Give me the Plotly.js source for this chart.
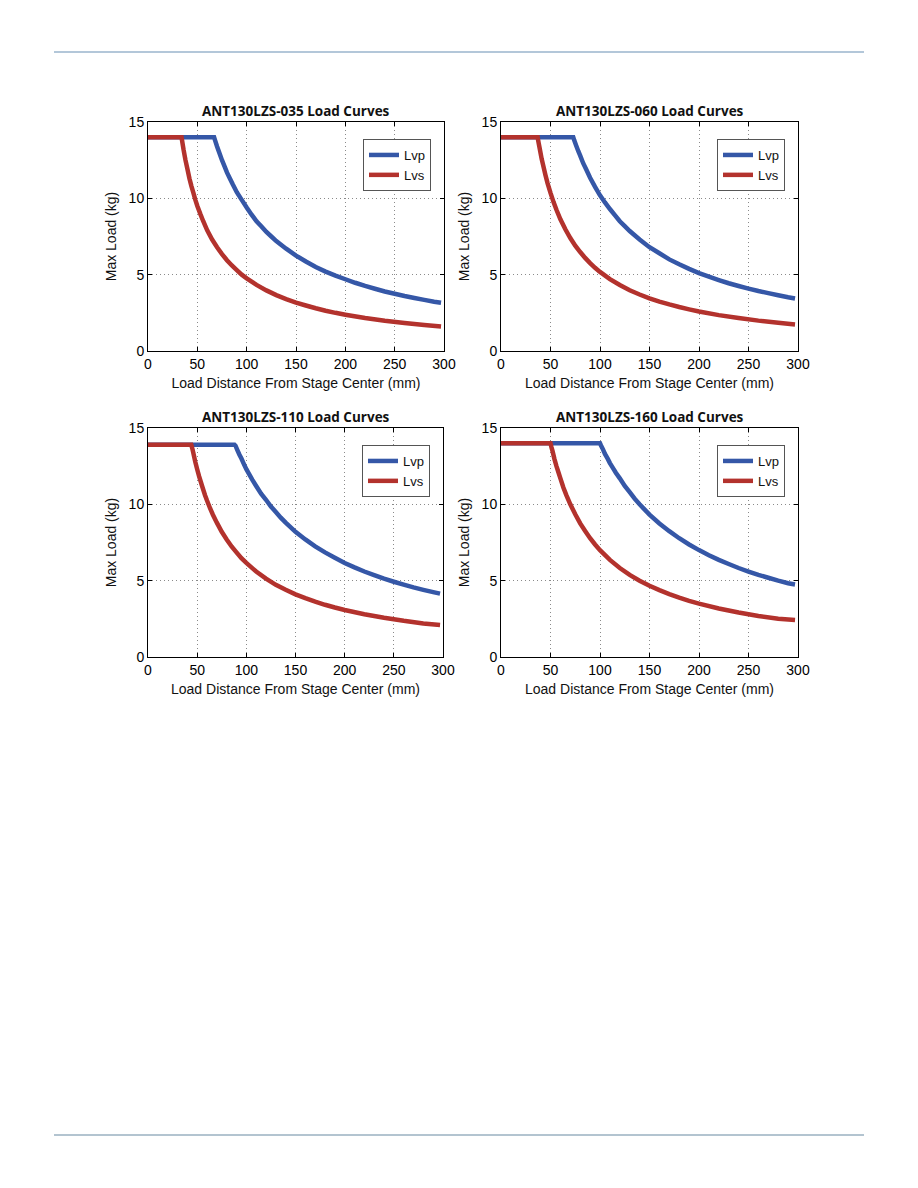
<!DOCTYPE html>
<html>
<head>
<meta charset="utf-8">
<script src="https://cdn.plot.ly/plotly-3.0.1.min.js"></script>
<style>
html,body{margin:0;padding:0;background:#fff;}
#chart{width:918px;height:1188px;}
</style>
</head>
<body>
<div id="chart"></div>
<script>
// ---- Data ----
const titles = ["ANT130LZS-035 Load Curves", "ANT130LZS-060 Load Curves", "ANT130LZS-110 Load Curves", "ANT130LZS-160 Load Curves"];
const seriesNames = ["Lvp", "Lvs"];
const xTicks = [0, 50, 100, 150, 200, 250, 300];
const yTicks = [0, 5, 10, 15];

// ANT130LZS-035
const x035_Lvp = [0, 67, 68, 70, 72, 75, 78, 80, 83, 86, 90, 95, 100, 105, 110, 115, 120, 125, 130, 140, 150, 160, 170, 180, 190, 200, 210, 220, 230, 240, 250, 260, 270, 280, 290, 297];
const y035_Lvp = [14, 14, 13.8, 13.4, 13.03, 12.5, 12.03, 11.7, 11.3, 10.9, 10.4, 9.9, 9.4, 8.93, 8.5, 8.16, 7.8, 7.5, 7.2, 6.7, 6.25, 5.86, 5.5, 5.2, 4.94, 4.7, 4.47, 4.26, 4.08, 3.9, 3.75, 3.6, 3.47, 3.35, 3.23, 3.16];
const x035_Lvs = [0, 34, 35, 36, 37, 38, 40, 42, 44, 46, 48, 50, 53, 56, 60, 65, 70, 75, 80, 85, 90, 95, 100, 110, 120, 130, 140, 150, 160, 170, 180, 190, 200, 220, 240, 260, 280, 297];
const y035_Lvs = [14, 14, 13.6, 13.2, 12.85, 12.5, 11.9, 11.3, 10.8, 10.35, 9.9, 9.5, 8.98, 8.5, 7.9, 7.3, 6.8, 6.35, 5.95, 5.6, 5.3, 5.0, 4.76, 4.33, 3.97, 3.66, 3.4, 3.17, 2.98, 2.8, 2.64, 2.5, 2.38, 2.16, 1.98, 1.83, 1.7, 1.6];

// ANT130LZS-060
const x060_Lvp = [0, 73, 74, 76, 78, 80, 83, 86, 90, 95, 100, 105, 110, 115, 120, 125, 130, 140, 150, 160, 170, 180, 190, 200, 210, 220, 230, 240, 250, 260, 270, 280, 290, 297];
const y060_Lvp = [14, 14, 13.8, 13.45, 13.1, 12.8, 12.3, 11.9, 11.35, 10.75, 10.2, 9.73, 9.3, 8.9, 8.5, 8.18, 7.86, 7.3, 6.8, 6.4, 6.0, 5.68, 5.38, 5.1, 4.87, 4.65, 4.44, 4.26, 4.09, 3.93, 3.79, 3.65, 3.52, 3.44];
const x060_Lvs = [0, 37, 38, 39, 41, 43, 45, 47, 50, 53, 56, 60, 65, 70, 75, 80, 85, 90, 95, 100, 110, 120, 130, 140, 150, 160, 170, 180, 190, 200, 220, 240, 260, 280, 297];
const y060_Lvs = [14, 14, 13.63, 13.3, 12.6, 12.05, 11.5, 11.0, 10.36, 9.77, 9.25, 8.63, 7.97, 7.4, 6.9, 6.48, 6.1, 5.76, 5.45, 5.18, 4.71, 4.32, 3.98, 3.7, 3.45, 3.24, 3.05, 2.88, 2.73, 2.59, 2.35, 2.16, 1.99, 1.85, 1.74];

// ANT130LZS-110
const x110_Lvp = [0, 88, 89, 91, 93, 95, 98, 100, 103, 106, 110, 115, 120, 125, 130, 135, 140, 150, 160, 170, 180, 190, 200, 210, 220, 230, 240, 250, 260, 270, 280, 290, 297];
const y110_Lvp = [13.9, 13.9, 13.84, 13.54, 13.25, 13.0, 12.57, 12.3, 11.96, 11.62, 11.2, 10.7, 10.3, 9.86, 9.5, 9.13, 8.8, 8.2, 7.7, 7.25, 6.85, 6.5, 6.16, 5.87, 5.6, 5.36, 5.13, 4.93, 4.74, 4.56, 4.4, 4.25, 4.15];
const x110_Lvs = [0, 44, 45, 46, 48, 50, 52, 55, 58, 60, 63, 66, 70, 75, 80, 85, 90, 95, 100, 110, 120, 130, 140, 150, 160, 170, 180, 190, 200, 220, 240, 260, 280, 297];
const y110_Lvs = [13.9, 13.9, 13.67, 13.4, 12.8, 12.3, 11.83, 11.2, 10.6, 10.25, 9.76, 9.32, 8.8, 8.2, 7.7, 7.24, 6.85, 6.47, 6.16, 5.6, 5.13, 4.73, 4.4, 4.1, 3.85, 3.62, 3.42, 3.24, 3.08, 2.8, 2.57, 2.37, 2.2, 2.1];

// ANT130LZS-160
const x160_Lvp = [0, 100, 101, 103, 105, 108, 110, 113, 116, 120, 125, 130, 135, 140, 150, 160, 170, 180, 190, 200, 210, 220, 230, 240, 250, 260, 270, 280, 290, 297];
const y160_Lvp = [14, 14, 13.86, 13.6, 13.3, 12.96, 12.7, 12.39, 12.07, 11.7, 11.2, 10.8, 10.37, 10.0, 9.33, 8.75, 8.24, 7.78, 7.37, 7.0, 6.67, 6.36, 6.09, 5.83, 5.6, 5.38, 5.19, 5.0, 4.83, 4.75];
const x160_Lvs = [0, 50, 51, 52, 54, 56, 58, 60, 63, 66, 70, 75, 80, 85, 90, 95, 100, 110, 120, 130, 140, 150, 160, 170, 180, 190, 200, 220, 240, 260, 280, 297];
const y160_Lvs = [14, 14, 13.73, 13.5, 12.96, 12.5, 12.1, 11.7, 11.1, 10.6, 10.0, 9.35, 8.75, 8.25, 7.78, 7.37, 7.0, 6.36, 5.83, 5.38, 5.0, 4.67, 4.38, 4.12, 3.89, 3.68, 3.5, 3.18, 2.92, 2.69, 2.5, 2.42];

const panels = [
  {lvp: [x035_Lvp, y035_Lvp], lvs: [x035_Lvs, y035_Lvs]},
  {lvp: [x060_Lvp, y060_Lvp], lvs: [x060_Lvs, y060_Lvs]},
  {lvp: [x110_Lvp, y110_Lvp], lvs: [x110_Lvs, y110_Lvs]},
  {lvp: [x160_Lvp, y160_Lvp], lvs: [x160_Lvs, y160_Lvs]}
];

// ---- Layout geometry (pixels on the 918x1188 page) ----
const W = 918, H = 1188;
const boxes = [
  {l: 148, r: 444, t: 122, b: 351},
  {l: 501, r: 798, t: 122, b: 351},
  {l: 148, r: 443, t: 428, b: 657},
  {l: 501, r: 798, t: 428, b: 657}
];
const BLUE = '#3557a7';
const RED = '#b3322d';
const tickFont = {family: 'Liberation Sans, Arial, sans-serif', size: 14, color: '#000'};
const titleFont = {family: 'Liberation Sans, Arial, sans-serif', size: 14, color: '#111'};

const data = [];
const layout = {
  width: W, height: H,
  margin: {l: 0, r: 0, t: 0, b: 0},
  paper_bgcolor: '#fff',
  plot_bgcolor: '#fff',
  showlegend: true,
  annotations: [],
  shapes: [
    {type: 'line', xref: 'paper', yref: 'paper', x0: 54/W, x1: 864/W, y0: 1-52/H, y1: 1-52/H, line: {color: '#b3c7d9', width: 2}},
    {type: 'line', xref: 'paper', yref: 'paper', x0: 54/W, x1: 864/W, y0: 1-1135/H, y1: 1-1135/H, line: {color: '#b3c4d0', width: 2}}
  ]
};

panels.forEach((p, i) => {
  const n = i + 1;
  const xa = n === 1 ? 'x' : 'x' + n;
  const ya = n === 1 ? 'y' : 'y' + n;
  const lg = n === 1 ? 'legend' : 'legend' + n;
  const bx = boxes[i];
  data.push({x: p.lvp[0], y: p.lvp[1], xaxis: xa, yaxis: ya, name: seriesNames[0], legend: lg,
    mode: 'lines', line: {color: BLUE, width: 4.5, simplify: false}});
  data.push({x: p.lvs[0], y: p.lvs[1], xaxis: xa, yaxis: ya, name: seriesNames[1], legend: lg,
    mode: 'lines', line: {color: RED, width: 4.5, simplify: false}});

  const axCommon = {
    showline: true, linecolor: '#000', linewidth: 1, mirror: 'ticks',
    ticks: 'inside', ticklen: 4, tickcolor: '#000', tickwidth: 1,
    showgrid: true, gridcolor: '#8a8a8a', griddash: '1px,3px', gridwidth: 1,
    zeroline: false, tickfont: tickFont, fixedrange: true
  };
  layout['xaxis' + (n === 1 ? '' : n)] = Object.assign({}, axCommon, {
    domain: [bx.l / W, bx.r / W], anchor: ya, range: [0, 300],
    tickvals: xTicks, ticktext: xTicks.map(String),
    title: {text: 'Load Distance From Stage Center (mm)', font: titleFont, standoff: 7}
  });
  layout['yaxis' + (n === 1 ? '' : n)] = Object.assign({}, axCommon, {
    domain: [1 - bx.b / H, 1 - bx.t / H], anchor: xa, range: [0, 15],
    tickvals: yTicks, ticktext: yTicks.map(String),
    title: {text: 'Max Load (kg)', font: titleFont, standoff: 8}
  });
  layout[lg] = {
    x: (bx.r - 13) / W, y: 1 - (bx.t + 17) / H, xanchor: 'right', yanchor: 'top',
    xref: 'paper', yref: 'paper',
    bgcolor: '#fff', bordercolor: '#555', borderwidth: 1,
    font: {family: 'Liberation Sans, Arial, sans-serif', size: 13, color: '#111'},
    tracegroupgap: 0, itemwidth: 30
  };
  layout.annotations.push({
    text: '<b>' + titles[i] + '</b>', xref: 'paper', yref: 'paper',
    x: (bx.l + bx.r) / 2 / W, y: 1 - (bx.t - 11) / H, xanchor: 'center', yanchor: 'middle',
    showarrow: false, font: {family: 'Open Sans, sans-serif', size: 13.5, color: '#111'}
  });
});

Plotly.newPlot('chart', data, layout, {staticPlot: true, displayModeBar: false});
</script>
</body>
</html>
